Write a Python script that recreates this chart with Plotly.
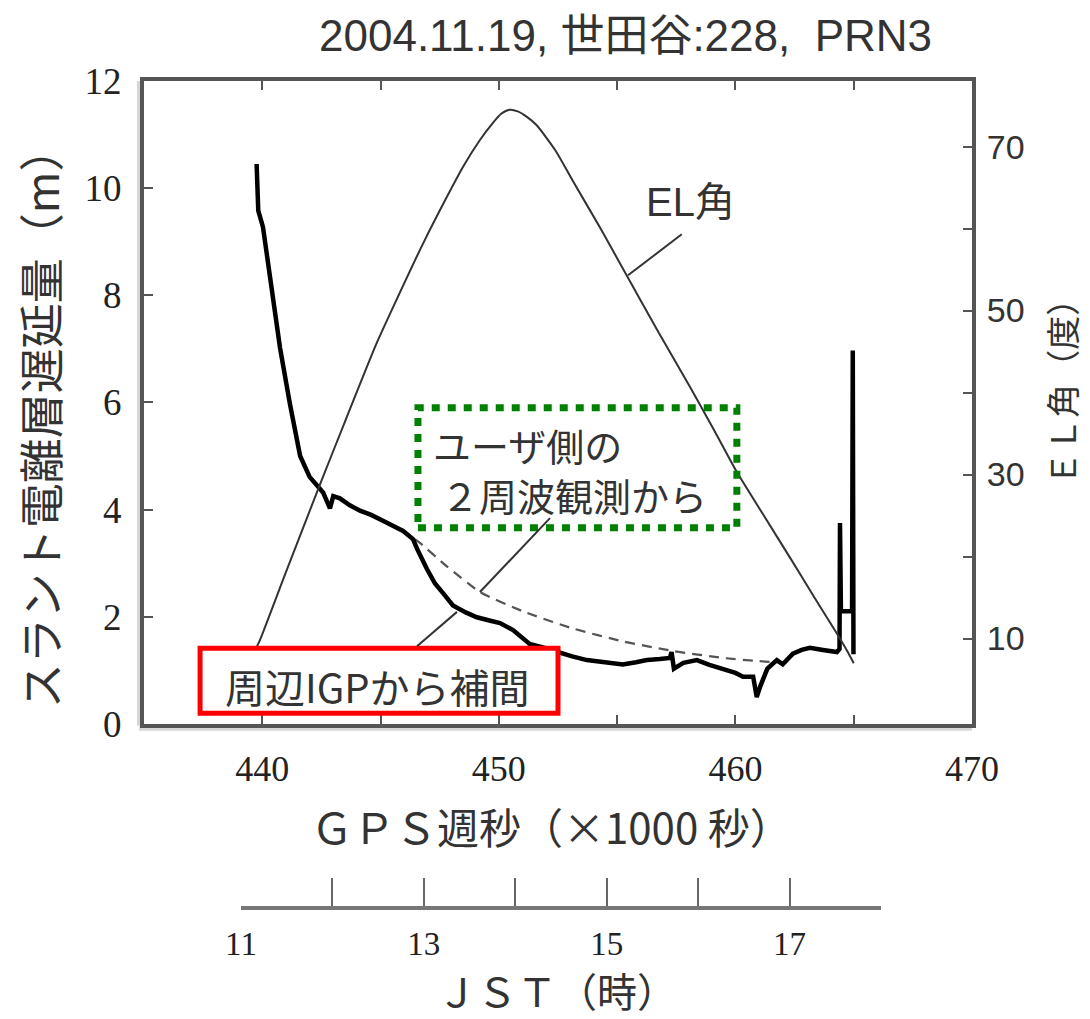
import plotly.graph_objects as go

# ---- data ----
# user-side dual-frequency slant ionospheric delay (m), GPS week seconds (x1000 s)
delay_x = [439.76, 439.80, 439.83, 440.03, 440.4, 440.75, 441.17, 441.6, 442.0, 442.3, 442.57, 442.86, 443.0,
           443.28, 443.7, 444.13, 444.6, 445.1, 445.5, 445.95, 446.37, 446.54, 446.96, 447.3, 447.64, 448.06,
           448.6, 449.07, 449.6, 450.05, 450.6, 451.3, 451.9, 452.45, 453.1, 453.72, 454.5, 455.24, 455.8,
           456.26, 456.8, 457.23, 457.3, 457.4, 457.8, 458.37, 458.9, 459.47, 460.0, 460.32, 460.75, 460.9,
           461.05, 461.35, 461.75, 462.0, 462.43, 462.8, 463.15, 463.7, 464.29, 464.40, 464.42, 464.46,
           464.93, 464.96, 464.99]
delay_y = [10.45, 10.0, 9.58, 9.27, 8.15, 7.02, 5.97, 5.0, 4.61, 4.45, 4.32, 4.02, 4.25,
           4.21, 4.08, 3.98, 3.90, 3.79, 3.70, 3.60, 3.45, 3.27, 2.89, 2.62, 2.44, 2.21,
           2.08, 1.99, 1.93, 1.88, 1.75, 1.49, 1.42, 1.34, 1.26, 1.19, 1.14, 1.11, 1.15,
           1.19, 1.21, 1.23, 1.34, 1.03, 1.14, 1.19, 1.10, 1.03, 0.95, 0.88, 0.88, 0.50,
           0.70, 1.03, 1.19, 1.11, 1.31, 1.38, 1.42, 1.38, 1.34, 1.40, 3.75, 2.10,
           2.10, 6.97, 1.30]

# surrounding-IGP interpolation (dashed)
igp_x = [446.45, 446.66, 447.8, 449.2, 451.02, 453.13, 455.24, 457.36, 459.47, 461.0, 461.8]
igp_y = [3.45, 3.38, 2.94, 2.46, 2.10, 1.78, 1.54, 1.36, 1.23, 1.17, 1.15]

# elevation angle (deg)
el_x = [439.75, 439.9, 441.0, 442.44, 443.5, 444.83, 445.8, 446.8, 447.7, 448.5, 449.2, 449.75,
        450.1, 450.45, 450.8, 451.2, 451.6, 452.4, 453.13, 454.3, 455.4, 456.7, 458.1, 459.1, 460.06,
        461.2, 462.3, 463.3, 464.27, 464.7, 465.0]
el_y = [8.9, 9.8, 18.1, 28.8, 36.5, 46.0, 52.1, 58.2, 63.3, 67.6, 70.8, 72.9,
        74.0, 74.5, 74.3, 73.6, 72.6, 69.5, 65.8, 60.0, 54.3, 47.6, 40.6, 35.4, 30.3,
        25.0, 19.9, 15.2, 10.7, 8.6, 7.0]

gps_ticks = [440, 445, 450, 455, 460, 465, 470]
gps_labels = ["440", "", "450", "", "460", "", "470"]
delay_ticks = [0, 2, 4, 6, 8, 10, 12]
el_ticks = [10, 20, 30, 40, 50, 60, 70]
el_labels = ["10", "", "30", "", "50", "", "70"]
jst_ticks = [11, 12, 13, 14, 15, 16, 17, 18]
jst_labels = ["11", "", "13", "", "15", "", "17", ""]

title_text = "2004.11.19, 世田谷:228,  PRN3"
ylab = "スラント電離層遅延量（m）"
y2lab = "ＥＬ角（度）"
xlab = "ＧＰＳ週秒（×1000 秒）"
jstlab = "ＪＳＴ（時）"

JP = "Noto Sans CJK JP"
SANS = "Liberation Sans, Noto Sans CJK JP"
SERIF = "Liberation Serif"
AX = "#555555"
TXT = "#333333"

fig = go.Figure()
fig.add_trace(go.Scatter(x=el_x, y=el_y, yaxis="y2", mode="lines",
                         line=dict(color="#333333", width=2, shape="spline", smoothing=0.6),
                         hoverinfo="skip", showlegend=False))
fig.add_trace(go.Scatter(x=igp_x, y=igp_y, mode="lines",
                         line=dict(color="#555555", width=2.2, dash="10px,7px", shape="spline", smoothing=0.5),
                         hoverinfo="skip", showlegend=False))
fig.add_trace(go.Scatter(x=delay_x, y=delay_y, mode="lines",
                         line=dict(color="#000000", width=4.5), hoverinfo="skip", showlegend=False))
# helper (draws nothing) so the JST axis subplot exists
fig.add_trace(go.Scatter(x=jst_ticks, y=[None] * len(jst_ticks), xaxis="x3", yaxis="y3",
                         mode="lines", hoverinfo="skip", showlegend=False))

# geometry helpers (paper coords)
L, R, T, B = 136, 126, 73, 20
W, H = 1090, 1019
pw, ph = W - L - R, H - T - B
def px(x):
    return (x - L) / pw
def py(y):
    return (H - B - y) / ph

main_bottom = py(725)

fig.update_layout(
    width=W, height=H,
    margin=dict(l=L, r=R, t=T, b=B),
    paper_bgcolor="white", plot_bgcolor="white",
    showlegend=False,
    xaxis=dict(domain=[0, 1], anchor="y", range=[435, 470], tickvals=gps_ticks, ticktext=gps_labels,
               ticks="inside", ticklen=9, tickwidth=2, tickcolor=AX, showline=True, linecolor=AX,
               linewidth=4, mirror="ticks", showgrid=False, zeroline=False,
               tickfont=dict(family=SERIF, size=36, color="#222222"), ticklabelstandoff=10),
    yaxis=dict(domain=[main_bottom, 1], anchor="x", range=[0, 12], tickvals=delay_ticks,
               ticks="inside", ticklen=9, tickwidth=2, tickcolor=AX, showline=True, linecolor=AX,
               linewidth=4, showgrid=False, zeroline=False,
               tickfont=dict(family=SERIF, size=37, color="#222222"), ticklabelstandoff=11),
    yaxis2=dict(overlaying="y", side="right", anchor="x", range=[-0.4, 78.0], tickvals=el_ticks,
                ticktext=el_labels, ticks="inside", ticklen=9, tickwidth=2, tickcolor=AX,
                showline=True, linecolor=AX, linewidth=4, showgrid=False, zeroline=False,
                tickfont=dict(family=SANS, size=34, color="#333333"), ticklabelstandoff=4),
    xaxis3=dict(domain=[px(233), px(873)], anchor="y3", range=[11, 18], tickvals=jst_ticks,
                ticktext=jst_labels, ticks="inside", ticklen=28, tickwidth=2, tickcolor="#666666",
                showline=True, linecolor="#777777", linewidth=4, showgrid=False, zeroline=False,
                tickfont=dict(family=SERIF, size=33, color="#222222"), ticklabelstandoff=5),
    yaxis3=dict(domain=[py(910), py(880)], anchor="x3", range=[0, 1], visible=False),
)

ann = []
ann.append(dict(text=title_text, xref="paper", yref="paper", x=px(617), y=py(27), showarrow=False,
                font=dict(family=SANS, size=44, color=TXT), xanchor="center", yanchor="middle"))
ann.append(dict(text=ylab, xref="paper", yref="paper", x=px(31), y=py(414), showarrow=False, textangle=-90,
                font=dict(family=JP, size=45, color=TXT), xanchor="center", yanchor="middle"))
ann.append(dict(text=y2lab, xref="paper", yref="paper", x=px(1054), y=py(380), showarrow=False, textangle=-90,
                font=dict(family=JP, size=34, color=TXT), xanchor="center", yanchor="middle"))
ann.append(dict(text=xlab, xref="paper", yref="paper", x=px(543), y=py(828), showarrow=False,
                font=dict(family=JP, size=42, color=TXT), xanchor="center", yanchor="middle"))
ann.append(dict(text=jstlab, xref="paper", yref="paper", x=px(549), y=py(995), showarrow=False,
                font=dict(family=JP, size=40, color=TXT), xanchor="center", yanchor="middle"))
ann.append(dict(text="EL角", xref="x", yref="y2", x=458.1, y=63.3, showarrow=False,
                font=dict(family=SANS, size=40, color=TXT), xanchor="center", yanchor="middle"))
ann.append(dict(text="ユーザ側の", xref="x", yref="y", x=447.15, y=5.22, showarrow=False,
                font=dict(family=JP, size=38, color=TXT), xanchor="left", yanchor="middle"))
ann.append(dict(text="２周波観測から", xref="x", yref="y", x=447.45, y=4.29, showarrow=False,
                font=dict(family=JP, size=38, color=TXT), xanchor="left", yanchor="middle"))
ann.append(dict(text="周辺IGPから補間", xref="x", yref="y", x=444.89, y=0.71, showarrow=False,
                font=dict(family=JP, size=40, color=TXT), xanchor="center", yanchor="middle"))
fig.update_layout(annotations=ann)

shapes = []
# faint frame shadow
shapes.append(dict(type="line", xref="paper", yref="paper", x0=px(131), x1=px(131), y0=py(727), y1=1,
                   line=dict(color="#d6d6d6", width=4), layer="below"))
shapes.append(dict(type="line", xref="paper", yref="paper", x0=px(131), x1=1, y0=py(730), y1=py(730),
                   line=dict(color="#d6d6d6", width=4), layer="below"))
# green dotted box
shapes.append(dict(type="rect", xref="x", yref="y", x0=446.58, x1=460.06, y0=3.66, y1=5.90,
                   line=dict(color="#008000", width=7, dash="8px,8px"), layer="above"))
# red box (white filled)
shapes.append(dict(type="rect", xref="x", yref="y", x0=437.37, x1=452.5, y0=0.20, y1=1.41,
                   line=dict(color="#ff0000", width=5), fillcolor="white", layer="above"))
# pointer lines
shapes.append(dict(type="line", xref="x", yref="y", x0=446.54, y0=1.45, x1=448.23, y1=2.09,
                   line=dict(color="#333333", width=2), layer="above"))
shapes.append(dict(type="line", xref="x", yref="y", x0=452.16, y0=3.84, x1=449.2, y1=2.46,
                   line=dict(color="#333333", width=2), layer="above"))
shapes.append(dict(type="line", xref="x", yref="y2", x0=457.73, y0=59.3, x1=455.46, y1=54.3,
                   line=dict(color="#333333", width=2), layer="above"))
fig.update_layout(shapes=shapes)

fig.write_html("out.html")
